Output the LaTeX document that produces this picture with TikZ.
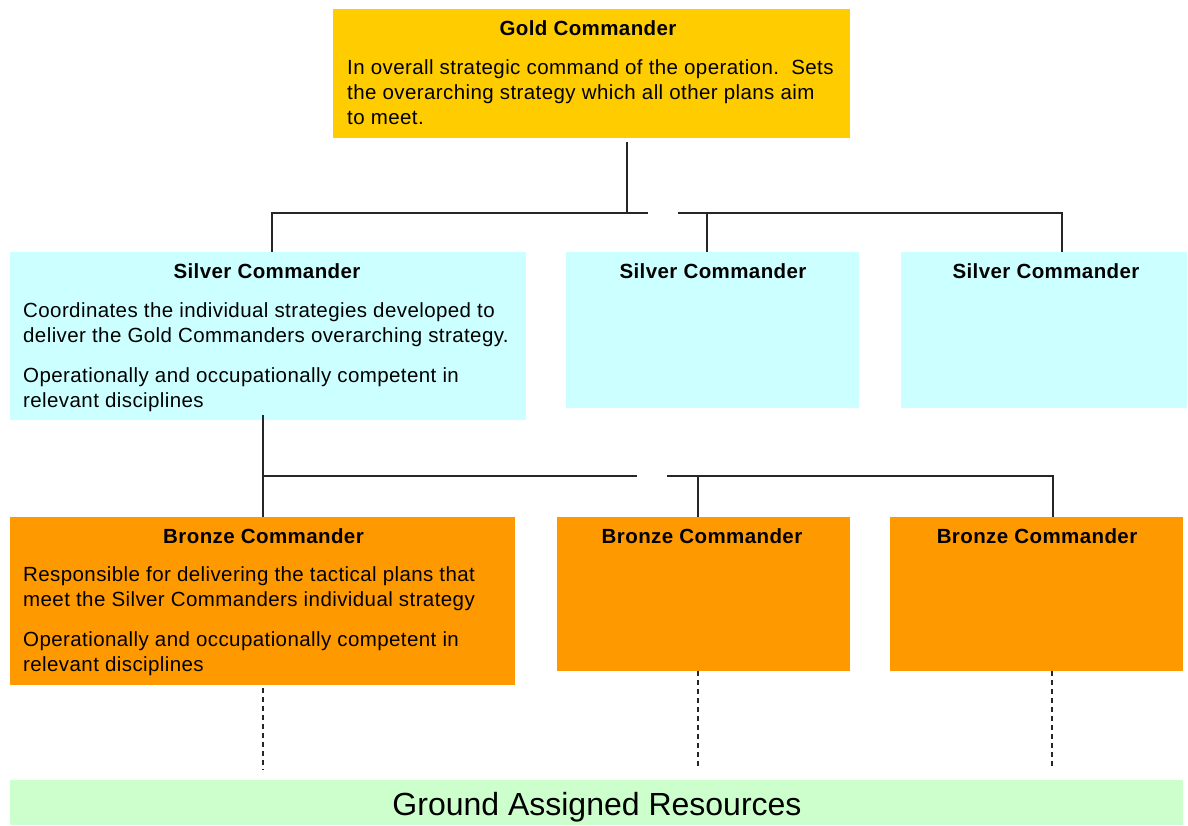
\documentclass[tikz,border=0pt]{standalone}
\usepackage{fontspec}
\setmainfont{Liberation Sans}
\definecolor{goldfill}{HTML}{FFCC00}
\definecolor{silverfill}{HTML}{CCFFFF}
\definecolor{bronzefill}{HTML}{FF9900}
\definecolor{groundfill}{HTML}{CCFFCC}
\definecolor{wire}{HTML}{262626}
\newfontfamily\panelfont[LetterSpace=2.0]{Liberation Sans}
\tikzset{
  panel/.style={rectangle, draw=none, anchor=north west, inner sep=0pt},
  title/.style={font=\panelfont\fontsize{20.5}{25}\selectfont\bfseries, anchor=base, inner sep=0pt},
  body/.style={font=\panelfont\fontsize{20.5}{25}\selectfont, align=left, anchor=base west, inner sep=0pt},
  wireline/.style={draw=wire, line width=1.4pt},
  dashwire/.style={draw=wire, line width=1.2pt, dash pattern=on 5pt off 4pt}
}
\begin{document}
\begin{tikzpicture}[x=1pt, y=-1pt]
\useasboundingbox[fill=white] (0,0) rectangle (1188,825);

% boxes
\node[panel, fill=goldfill,   minimum width=517, minimum height=129] (gold) at (333,9) {};
\node[panel, fill=silverfill, minimum width=516, minimum height=168] (s1) at (10,252) {};
\node[panel, fill=silverfill, minimum width=293, minimum height=156] (s2) at (566,252) {};
\node[panel, fill=silverfill, minimum width=286, minimum height=156] (s3) at (901,252) {};
\node[panel, fill=bronzefill, minimum width=505, minimum height=168] (b1) at (10,517) {};
\node[panel, fill=bronzefill, minimum width=293, minimum height=154] (b2) at (557,517) {};
\node[panel, fill=bronzefill, minimum width=293, minimum height=154] (b3) at (890,517) {};
\node[panel, fill=groundfill, minimum width=1173, minimum height=45] (ground) at (10,780) {};

% gold text
\node[title] (goldt) at (588,35) {Gold Commander};
\node[body] (goldb) at (347,74) {In overall strategic command of the operation.\ \ Sets};
\node[body] (goldb2) at (347,99) {the overarching strategy which all other plans aim};
\node[body] (goldb3) at (347,124) {to meet.};

% silver text
\node[title] (s1t) at (267,278) {Silver Commander};
\node[title] (s2t) at (713,278) {Silver Commander};
\node[title] (s3t) at (1046,278) {Silver Commander};
\node[body] (s1b1) at (23,317) {Coordinates the individual strategies developed to};
\node[body] (s1b2) at (23,342) {deliver the Gold Commanders overarching strategy.};
\node[body] (s1b3) at (23,382) {Operationally and occupationally competent in};
\node[body] (s1b4) at (23,407) {relevant disciplines};

% bronze text
\node[title] (b1t) at (263.5,543) {Bronze Commander};
\node[title] (b2t) at (702,543) {Bronze Commander};
\node[title] (b3t) at (1037,543) {Bronze Commander};
\node[body] (b1b1) at (23,581) {Responsible for delivering the tactical plans that};
\node[body] (b1b2) at (23,606) {meet the Silver Commanders individual strategy};
\node[body] (b1b3) at (23,646) {Operationally and occupationally competent in};
\node[body] (b1b4) at (23,671) {relevant disciplines};

% ground text
\node[font=\fontsize{32}{36}\selectfont, inner sep=0pt] (groundt) at (597,807) {Ground Assigned Resources};

% gold to silver connectors
\coordinate (ga) at (627,213);
\coordinate (gb) at (648,213);
\coordinate (gc) at (678,213);
\draw[wireline] ([yshift=-4pt]gold.south -| ga) -- (ga);
\draw[wireline] ([xshift=262pt]s1.north west) |- (gb);
\draw[wireline] (gc) -| ([xshift=161pt]s3.north west);
\draw[wireline] ([xshift=141pt]s2.north west) -- ([xshift=141pt,yshift=39pt]s2.north west);

% silver to bronze connectors
\coordinate (sa) at (637,476);
\coordinate (sb) at (667,476);
\draw[wireline] ([xshift=253pt,yshift=5pt]s1.south west) -- ([xshift=253pt]b1.north west);
\draw[wireline] ([xshift=253pt,yshift=41pt]b1.north west) -- (sa);
\draw[wireline] (sb) -| ([xshift=163pt]b3.north west);
\draw[wireline] ([xshift=141pt]b2.north west) -- ([xshift=141pt,yshift=41pt]b2.north west);

% bronze to ground (dashed)
\draw[dashwire] ([xshift=253pt,yshift=-3pt]b1.south west) -- ([xshift=253pt,yshift=10pt]ground.north west);
\draw[dashwire] ([xshift=141pt]b2.south west) -- ([xshift=688pt,yshift=10pt]ground.north west);
\draw[dashwire] ([xshift=162pt]b3.south west) -- ([xshift=1042pt,yshift=10pt]ground.north west);
\end{tikzpicture}
\end{document}
